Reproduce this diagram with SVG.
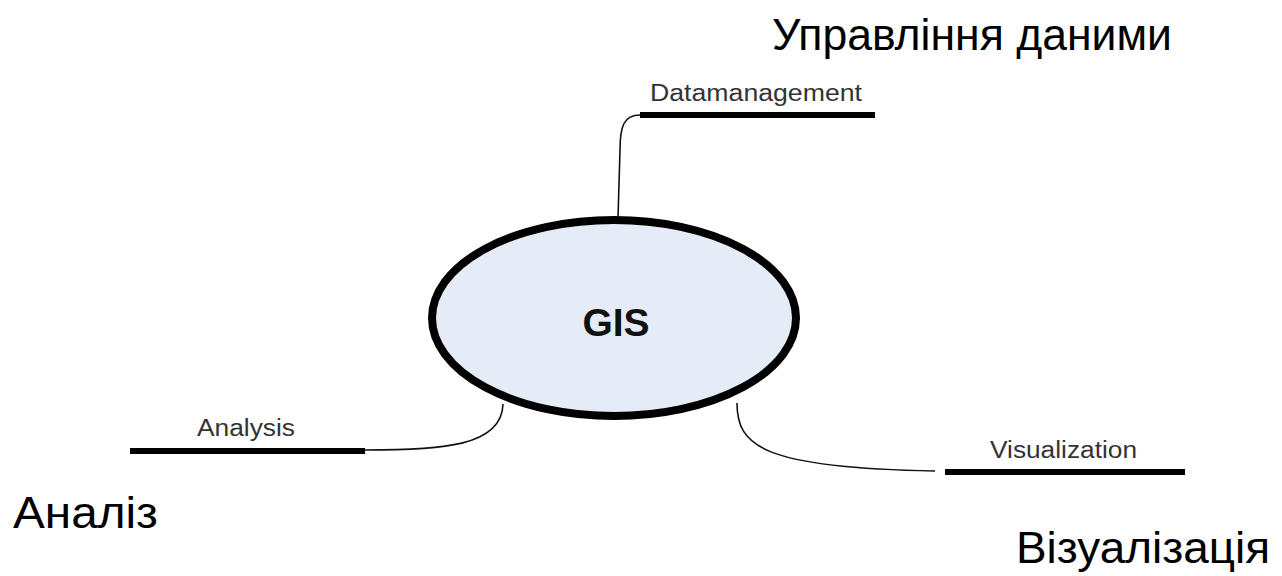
<svg xmlns="http://www.w3.org/2000/svg" width="1282" height="576" viewBox="0 0 1282 576">
<style>
.big{font-family:"Liberation Sans",Arial,sans-serif;font-size:44px;fill:#000}
.lbl{font-family:"Liberation Sans",Arial,sans-serif;font-size:23px;fill:#333}
.bar{stroke:#000;stroke-width:6;fill:none}
.con{stroke:#111;stroke-width:1.6;fill:none}
</style>
<rect width="1282" height="576" fill="#fff"/>
<g id="connectors">
<path class="con" d="M640,115 C624,115 620,126 620,150 L618,218"/>
<path class="con" d="M365,450 C440,450 502,447 503,404"/>
<path class="con" d="M737,403 C737,445 760,468 935,471"/>
</g>
<g id="gis">
<ellipse cx="614" cy="318" rx="182" ry="98" fill="#e6ecf7" stroke="#000" stroke-width="8"/>
<text x="616" y="336" text-anchor="middle" font-family="Liberation Sans,Arial,sans-serif" font-weight="bold" font-size="39" fill="#111">GIS</text>
</g>
<g id="datamanagement">
<line class="bar" x1="640" y1="115" x2="875" y2="115"/>
<text class="lbl" x="650" y="101" textLength="212" lengthAdjust="spacingAndGlyphs">Datamanagement</text>
</g>
<g id="analysis">
<line class="bar" x1="130" y1="451" x2="365" y2="451"/>
<text class="lbl" x="197" y="436" textLength="98" lengthAdjust="spacingAndGlyphs">Analysis</text>
</g>
<g id="visualization">
<line class="bar" x1="945" y1="472" x2="1185" y2="472"/>
<text class="lbl" x="990" y="458" textLength="147" lengthAdjust="spacingAndGlyphs">Visualization</text>
</g>
<g id="labels">
<text class="big" x="772" y="50" textLength="400" lengthAdjust="spacingAndGlyphs">Управління даними</text>
<text class="big" x="13" y="528" textLength="145" lengthAdjust="spacingAndGlyphs">Аналіз</text>
<text class="big" x="1016" y="563" textLength="254" lengthAdjust="spacingAndGlyphs">Візуалізація</text>
</g>
</svg>
